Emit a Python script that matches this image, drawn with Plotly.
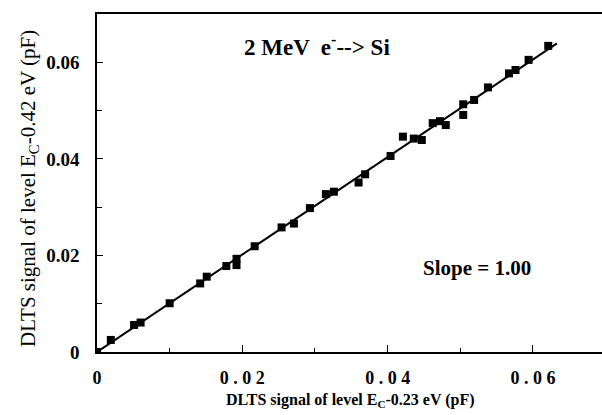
import plotly.graph_objects as go

# Data (pF)
x_data = [0.0, 0.0019, 0.0051, 0.0060, 0.0100, 0.0142, 0.0151, 0.0178, 0.0192, 0.0192,
          0.0217, 0.0254, 0.0271, 0.0293, 0.0315, 0.0326, 0.0360, 0.0369, 0.0404, 0.0421,
          0.0436, 0.0447, 0.0462, 0.0472, 0.0480, 0.0504, 0.0504, 0.0519, 0.0538, 0.0567,
          0.0576, 0.0594, 0.0621]
y_data = [0.0, 0.0025, 0.0056, 0.0061, 0.0101, 0.0142, 0.0156, 0.0178, 0.0193, 0.0180,
          0.0219, 0.0258, 0.0266, 0.0298, 0.0327, 0.0332, 0.0351, 0.0368, 0.0406, 0.0446,
          0.0442, 0.0439, 0.0474, 0.0478, 0.0470, 0.0513, 0.0491, 0.0522, 0.0548, 0.0577,
          0.0584, 0.0605, 0.0634]
fit_x = [0.0, 0.0633]
fit_y = [0.0, 0.0639]

x_tickvals = [0, 0.02, 0.04, 0.06]
x_ticktext = ["0", "0 . 0 2", "0 . 0 4", "0 . 0 6"]
y_tickvals = [0, 0.02, 0.04, 0.06]
y_ticktext = ["0", "0.02", "0.04", "0.06"]

serif = "Liberation Serif, Times New Roman, serif"

fig = go.Figure()
fig.add_trace(go.Scatter(x=fit_x, y=fit_y, mode="lines",
                         line=dict(color="black", width=2), showlegend=False))
fig.add_trace(go.Scatter(x=x_data, y=y_data, mode="markers",
                         marker=dict(symbol="square", size=8, color="black"),
                         showlegend=False))

def px_x(p):
    return (p - 97) / 505

def px_y(p):
    return (352 - p) / 338

fig.update_layout(
    width=602, height=415,
    margin=dict(l=97, r=0, t=14, b=63),
    paper_bgcolor="white", plot_bgcolor="white",
    font=dict(family=serif, color="black"),
    xaxis=dict(range=[0, 0.0695], showgrid=False, zeroline=False,
               showline=True, linecolor="black", linewidth=1.5, mirror=True,
               tickmode="array", tickvals=x_tickvals, ticktext=x_ticktext,
               ticks="inside", ticklen=7, tickwidth=1.2, tickcolor="black",
               ticklabelstandoff=9,
               minor=dict(dtick=0.01, ticks="inside", ticklen=4, tickcolor="black"),
               tickfont=dict(family=serif, size=18, color="black", weight="bold")),
    yaxis=dict(range=[0, 0.0700], showgrid=False, zeroline=False,
               showline=True, linecolor="black", linewidth=1.5,
               tickmode="array", tickvals=y_tickvals, ticktext=y_ticktext,
               ticks="inside", ticklen=6, tickwidth=1.2, tickcolor="black",
               ticklabelstandoff=12,
               minor=dict(dtick=0.01, ticks="inside", ticklen=5, tickcolor="black"),
               tickfont=dict(family=serif, size=19, color="black", weight="bold")),
    annotations=[
        dict(text="<b>2 MeV  e<sup>-</sup>--> Si</b>", xref="paper", yref="paper",
             x=px_x(317), y=px_y(45), xanchor="center", yanchor="middle", showarrow=False,
             font=dict(family=serif, size=23, color="black")),
        dict(text="<b>Slope = 1.00</b>", xref="paper", yref="paper",
             x=px_x(477), y=px_y(268), xanchor="center", yanchor="middle", showarrow=False,
             font=dict(family=serif, size=21, color="black")),
        dict(text="<b>DLTS signal of level E<sub>C</sub>-0.23 eV (pF)</b>",
             xref="paper", yref="paper",
             x=px_x(350), y=px_y(400), xanchor="center", yanchor="middle", showarrow=False,
             font=dict(family=serif, size=16, color="black")),
        dict(text="DLTS signal of level E<sub>C</sub>-0.42 eV (pF)",
             xref="paper", yref="paper", textangle=-90,
             x=px_x(29), y=px_y(189), xanchor="center", yanchor="middle", showarrow=False,
             font=dict(family=serif, size=21, color="black")),
    ],
)

fig.write_html("out.html")
